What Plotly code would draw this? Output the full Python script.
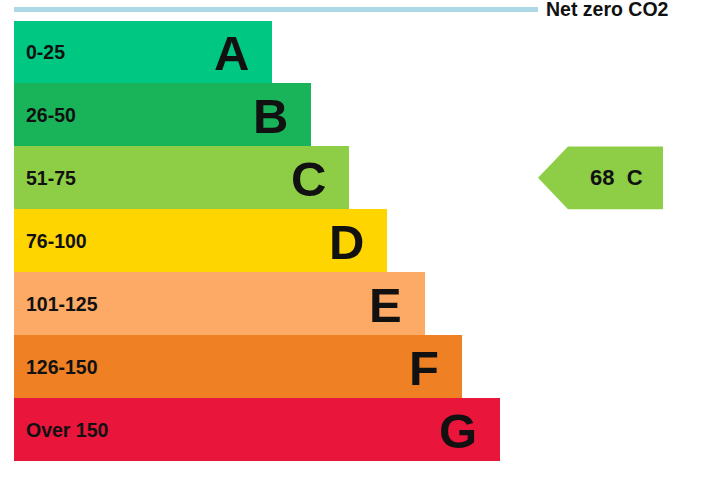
"""EPC 风格的 CO2 排放等级图（plotly）。"""
import plotly.graph_objects as go

# 等级、区间标签、条形长度（像素单位）与颜色
bands = ["A", "B", "C", "D", "E", "F", "G"]
ranges = ["0-25", "26-50", "51-75", "76-100", "101-125", "126-150", "Over 150"]
bar_lengths = [258, 297, 335, 373, 411, 448, 486]
colors = ["#00c781", "#19b459", "#8dce46", "#ffd500", "#fcaa65", "#ef8023", "#e9153b"]

# 当前评分
current_value = 68
current_band = "C"

FONT = "Liberation Sans, Arial, sans-serif"
W, H = 708, 493
PITCH = 62.92           # 每行像素高度
ROW0 = 52               # 第一行中心像素


def ypix(p):
    return (p - ROW0) / PITCH


rows = list(range(len(bands)))

fig = go.Figure()
fig.add_trace(go.Bar(
    x=bar_lengths, y=rows, orientation="h", base=0,
    marker={"color": colors, "line": {"width": 0}},
    width=1.0, hoverinfo="skip", showlegend=False,
))

annotations = []
for i, (band, rng, length) in enumerate(zip(bands, ranges, bar_lengths)):
    annotations.append(dict(
        x=0, y=i, text=f"<b>{rng}</b>", xanchor="left", yanchor="middle",
        xshift=10, showarrow=False,
        font={"family": FONT, "size": 19.5, "color": "#111111"},
    ))
    annotations.append(dict(
        x=length, y=i, text=f"<b>{band}</b>", xanchor="right", yanchor="middle",
        xshift=-21, yshift=-1, showarrow=False,
        font={"family": FONT, "size": 49, "color": "#111111"},
    ))

# 当前评分箭头
ci = bands.index(current_band)
tip, shoulder, right = 524, 554, 649
half = 0.5
arrow_path = (f"M {tip},{ci} L {shoulder},{ci - half} L {right},{ci - half} "
              f"L {right},{ci + half} L {shoulder},{ci + half} Z")
shapes = [
    dict(type="path", path=arrow_path, xref="x", yref="y",
         fillcolor=colors[ci], line={"width": 0}, layer="below"),
    # 顶部 Net zero 线
    dict(type="line", x0=0, x1=524, y0=ypix(9.5), y1=ypix(9.5), xref="x", yref="y",
         line={"color": "#add8e6", "width": 5}),
]
annotations.append(dict(
    x=(shoulder + right) / 2 + 1, y=ci, text=f"<b>{current_value}  {current_band}</b>",
    xanchor="center", yanchor="middle", showarrow=False,
    font={"family": FONT, "size": 22, "color": "#111111"},
))
annotations.append(dict(
    x=530, y=ypix(9), text="<b>Net zero CO2</b>", xanchor="left", yanchor="middle",
    showarrow=False, font={"family": FONT, "size": 19.5, "color": "#111111"},
))

fig.update_layout(
    width=W, height=H,
    margin={"l": 0, "r": 0, "t": 0, "b": 0},
    paper_bgcolor="white", plot_bgcolor="white",
    xaxis={"range": [-14, W - 14], "visible": False, "fixedrange": True},
    yaxis={"range": [ypix(H), ypix(0)], "visible": False, "fixedrange": True},
    shapes=shapes, annotations=annotations,
    bargap=0,
)

# 去掉浏览器默认的 body 边距
fig.write_html("out.html", config={"displayModeBar": False},
               post_script="document.body.style.margin='0';")
